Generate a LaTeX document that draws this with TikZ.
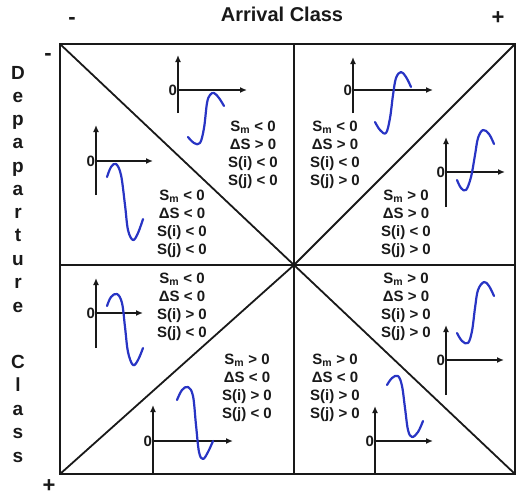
\documentclass[tikz,border=0pt]{standalone}
\usepackage{fontspec}
\setmainfont{Liberation Sans}
\usetikzlibrary{arrows.meta}
\definecolor{curveblue}{RGB}{40,52,196}
\definecolor{ink}{RGB}{25,25,25}
\newcommand\miniaxes[6]{%
  \coordinate (#1o) at (#2,#3);
  \coordinate (#1t) at (#2,#4);
  \coordinate (#1b) at (#2,#5);
  \coordinate (#1r) at (#6,#3);
  \draw[axisline] (#1b) -- (#1t);
  \draw[axisline] (#1o) -- (#1r);
  \node[zero] (#1z) at (#1o) {0};
}
\begin{document}
\begin{tikzpicture}[x=1pt,y=-1pt,
  frame/.style={line width=2.4pt, line join=miter, draw=ink},
  divider/.style={line width=1.8pt, draw=ink},
  axisline/.style={line width=1.5pt, draw=ink, -{Latex[length=7pt,width=6pt]}},
  wave/.style={curveblue, line width=2.2pt, line cap=round, line join=round},
  cond/.style={align=center, font=\fontsize{15}{18}\selectfont\bfseries, text=ink, inner sep=0pt},
  zero/.style={anchor=east, inner sep=0.8pt, text=ink, font=\fontsize{15}{16}\selectfont\bfseries},
  title/.style={font=\fontsize{20}{22}\selectfont\bfseries, text=ink, inner sep=0pt},
  letter/.style={anchor=base, font=\fontsize{19}{22}\selectfont\bfseries, text=ink, inner sep=0pt},
  sign/.style={font=\fontsize{22}{24}\selectfont\bfseries, text=ink, inner sep=0pt}]

\useasboundingbox (0,0) rectangle (518,496);

% frame and dividers
\coordinate (TL) at (60,44);
\coordinate (TR) at (515,44);
\coordinate (BL) at (60,474);
\coordinate (BR) at (515,474);
\coordinate (C) at (294,265);
\coordinate (TM) at (294,44);
\coordinate (BM) at (294,474);
\coordinate (LM) at (60,265);
\coordinate (RM) at (515,265);
\draw[divider] (TM) -- (BM);
\draw[divider] (LM) -- (RM);
\draw[divider] (TL) -- (C);
\draw[divider] (C) -- (BR);
\draw[divider] (TR) -- (C);
\draw[divider] (C) -- (BL);
\draw[frame] (TL) rectangle (BR);

% titles
\node[title] (arrival) at (282,14) {Arrival Class};
\node[sign] (sgnA) at (72,21) {-};
\node[sign] (sgnB) at (498,18) {+};
\node[sign] (sgnC) at (48,57) {-};
\node[sign] (sgnD) at (49,486) {+};

\node[letter] (l1) at (18,79.5) {D};
\node[letter] (l2) at (18,102.6) {e};
\node[letter] (l3) at (18,125.8) {p};
\node[letter] (l4) at (18,148.9) {a};
\node[letter] (l5) at (18,172.1) {p};
\node[letter] (l6) at (18,195.2) {a};
\node[letter] (l7) at (18,218.4) {r};
\node[letter] (l8) at (18,241.5) {t};
\node[letter] (l9) at (18,265.7) {u};
\node[letter] (l10) at (18,288.8) {r};
\node[letter] (l11) at (18,312) {e};
\node[letter] (l12) at (18,368.5) {C};
\node[letter] (l13) at (18,391.9) {l};
\node[letter] (l14) at (18,415.3) {a};
\node[letter] (l15) at (18,438.7) {s};
\node[letter] (l16) at (18,462.1) {s};

% condition texts
\node[cond] (t1) at (253,155) {S\textsubscript{m} < 0\\ΔS > 0\\S(i) < 0\\S(j) < 0};
\node[cond] (t2) at (182,224) {S\textsubscript{m} < 0\\ΔS < 0\\S(i) < 0\\S(j) < 0};
\node[cond] (t3) at (335,155) {S\textsubscript{m} < 0\\ΔS > 0\\S(i) < 0\\S(j) > 0};
\node[cond] (t4) at (406,224) {S\textsubscript{m} > 0\\ΔS > 0\\S(i) < 0\\S(j) > 0};
\node[cond] (t5) at (182,307) {S\textsubscript{m} < 0\\ΔS < 0\\S(i) > 0\\S(j) < 0};
\node[cond] (t6) at (247,388) {S\textsubscript{m} > 0\\ΔS < 0\\S(i) > 0\\S(j) < 0};
\node[cond] (t7) at (335,388) {S\textsubscript{m} > 0\\ΔS < 0\\S(i) > 0\\S(j) > 0};
\node[cond] (t8) at (406,307) {S\textsubscript{m} > 0\\ΔS > 0\\S(i) > 0\\S(j) > 0};

% mini graphs
\miniaxes{a}{178}{90}{55}{113}{247}
\miniaxes{b}{96}{161}{125}{195}{153}
\miniaxes{c}{353}{90}{57}{113}{433}
\miniaxes{d}{446}{172}{137}{207}{505}
\miniaxes{e}{96}{313}{278}{348}{143}
\miniaxes{f}{153}{441}{405}{474}{233}
\miniaxes{g}{375}{441}{406}{474}{433}
\miniaxes{h}{446}{360}{325}{395}{504}

% blue curves
\draw[wave] plot[smooth, tension=0.6] coordinates {(188,137) (194,143) (200,143) (204,128) (207,103) (210,95) (214,93) (219,98) (224,106)};
\draw[wave] plot[smooth, tension=0.6] coordinates {(107,177) (111,167) (116,164) (121,175) (125,205) (128,230) (133,240) (138,233) (143,219)};
\draw[wave] plot[smooth, tension=0.6] coordinates {(375,122) (380,130) (386,133) (390,118) (393,95) (396,78) (401,72) (406,77) (411,87)};
\draw[wave] plot[smooth, tension=0.6] coordinates {(457,180) (461,188) (466,190) (471,177) (475,155) (478,138) (483,130) (489,134) (494,144)};
\draw[wave] plot[smooth, tension=0.6] coordinates {(107,306) (111,297) (117,294) (122,303) (125,327) (128,352) (133,365) (138,360) (143,348)};
\draw[wave] plot[smooth, tension=0.6] coordinates {(177,400) (182,390) (188,387) (193,396) (196,425) (199,452) (203,459) (208,452) (213,441)};
\draw[wave] plot[smooth, tension=0.6] coordinates {(387,385) (392,378) (398,376) (402,386) (405,408) (408,430) (412,437) (418,432) (423,421)};
\draw[wave] plot[smooth, tension=0.6] coordinates {(457,333) (462,341) (468,343) (472,331) (475,308) (478,290) (484,282) (489,286) (494,296)};
\end{tikzpicture}
\end{document}
